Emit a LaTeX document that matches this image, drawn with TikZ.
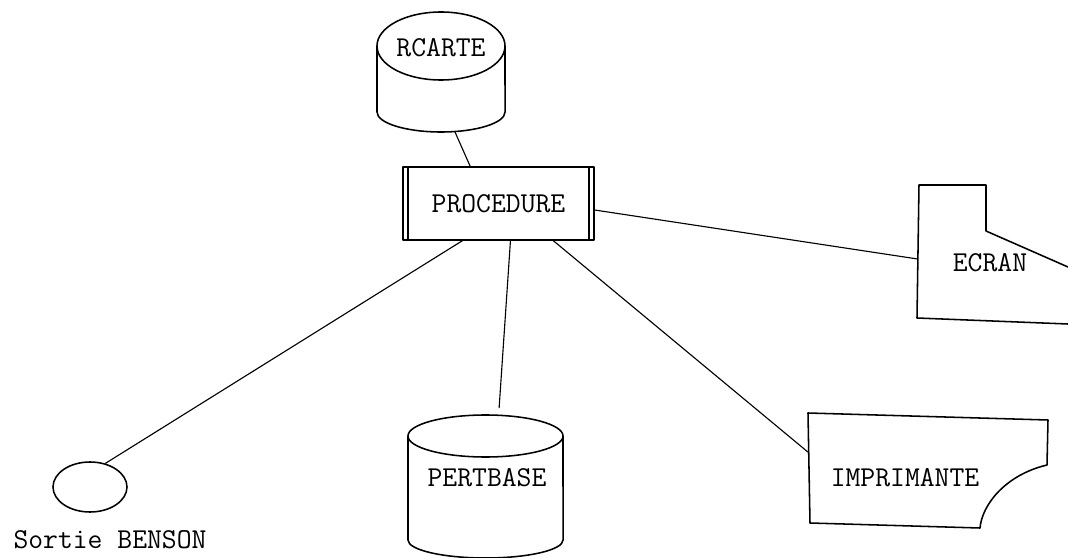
\documentclass[tikz,border=0pt]{standalone}
\usetikzlibrary{shapes.geometric}
\begin{document}
\begin{tikzpicture}[
    x=0.025cm,y=-0.025cm,
    hull/.style={rectangle,inner sep=0pt,outer sep=0pt},
    lbl/.style={font=\fontsize{20.5}{24}\selectfont\ttfamily,inner sep=0pt},
    outl/.style={line width=1.1pt,line join=round},
    lnk/.style={line width=0.8pt}
]
\useasboundingbox (0,0) rectangle (1068,558);

\node[hull,minimum width=3.2cm,minimum height=3cm] (rcarte) at (441,72) {};
\node[lbl] (rcarte-t) at (441,48) {RCARTE};
\draw[outl] (441,46) ellipse [x radius=1.6cm,y radius=0.85cm];
\draw[outl] (377,46) -- (377,112) arc[start angle=180,end angle=360,x radius=1.6cm,y radius=0.5cm] -- (505,46);

\node[hull,draw,outl,lbl,minimum width=4.775cm,minimum height=1.825cm] (proc) at (498.5,203.5) {PROCEDURE};
\draw[outl] (408,167) -- (408,240) (589,167) -- (589,240);

\node[hull,minimum width=3.775cm,minimum height=3.475cm] (ecran) at (992.5,254.5) {};
\node[lbl] (ecran-t) at (990,263) {ECRAN};
\draw[outl] (1068,267) -- (986,231) -- (986,185) -- (919,185) -- (917,318) -- (1068,324);

\node[hull,minimum width=6cm,minimum height=2.875cm] (impr) at (928,470.5) {};
\node[lbl] (impr-t) at (905,478) {IMPRIMANTE};
\draw[outl] (808,413) -- (1048,420) -- (1047,465) .. controls (1005,475) and (982,505) .. (980,528) -- (810,523) -- cycle;

\node[hull,minimum width=3.875cm,minimum height=3.575cm] (pertbase) at (485.5,486.5) {};
\node[lbl] (pertbase-t) at (487,478) {PERTBASE};
\draw[outl] (485.5,436) ellipse [x radius=1.9375cm,y radius=0.525cm];
\draw[outl] (408,436) -- (408,540) arc[start angle=180,end angle=360,x radius=1.9375cm,y radius=0.45cm] -- (563,436);

\node[ellipse,draw,outl,minimum width=1.85cm,minimum height=1.25cm,inner sep=0pt] (sortie) at (90,487) {};
\node[lbl] (sortie-t) at (110,540) {Sortie BENSON};

\draw[lnk] ([xshift=0.35cm]rcarte.south) -- ([xshift=-0.7cm]proc.north);
\draw[lnk] ([yshift=-0.16cm]proc.east) -- ([yshift=-0.11cm]ecran.west);
\draw[lnk] ([xshift=-0.875cm]proc.south) -- (sortie.57);
\draw[lnk] ([xshift=0.3cm]proc.south) -- ([xshift=0.34cm,yshift=0.17cm]pertbase.north);
\draw[lnk] ([xshift=1.35cm]proc.south) -- ([yshift=0.46cm]impr.west);
\end{tikzpicture}
\end{document}
